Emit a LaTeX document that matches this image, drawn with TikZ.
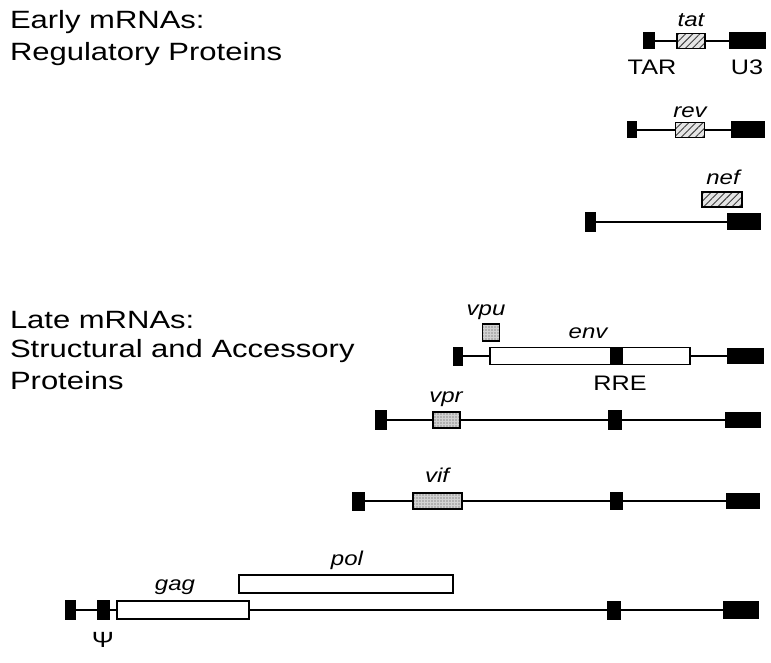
\documentclass[tikz,border=0pt]{standalone}
\usepackage{fontspec}
\setmainfont{Liberation Sans}
\usetikzlibrary{patterns.meta}
\begin{document}
\begin{tikzpicture}[x=1pt,y=-1pt,
  every node/.style={inner sep=0pt, outer sep=0pt},
  blk/.style={draw=black, fill=black, line width=1pt},
  hatchbox/.style={draw=black, line width=1.5pt, preaction={fill=gray!20},
    pattern={Lines[angle=45,distance=5pt,line width=0.9pt]}, pattern color=black!75},
  stipbox/.style={draw=black, line width=1.5pt, preaction={fill=gray!35},
    pattern={Dots[distance=3pt,radius=0.55pt]}, pattern color=black!75},
  openbox/.style={draw=black, line width=1.8pt, fill=white},
  title/.style={anchor=base west, xscale=1.24, font=\fontsize{25}{30}\selectfont},
  gene/.style={anchor=base, xscale=1.2, font=\fontsize{20}{24}\selectfont\itshape},
  site/.style={anchor=base, xscale=1.2, font=\fontsize{21}{25}\selectfont},
  conn/.style={line width=1.9pt}
]
\useasboundingbox (0,0) rectangle (771,663);

% titles
\node[title] (t1a) at (10,29) {Early mRNAs:};
\node[title] (t1b) at (10,61) {Regulatory Proteins};
\node[title] (t2a) at (10,328) {Late mRNAs:};
\node[title] (t2b) at (10,357) {Structural and Accessory};
\node[title] (t2c) at (10,389) {Proteins};

% tat row
\node[blk, minimum width=11pt, minimum height=16pt] (tatL) at (649,41) {};
\node[hatchbox, minimum width=28pt, minimum height=15pt] (tat) at (691,41) {};
\node[blk, minimum width=36pt, minimum height=16pt] (tatR) at (747,41) {};
\draw[conn] (tatL) -- (tat) -- (tatR);
\node[gene] (tatlbl) at (691,27) {tat};
\node[site] (tarlbl) at (652,75) {TAR};
\node[site] (u3lbl) at (747,75) {U3};

% rev row
\node[blk, minimum width=9pt, minimum height=16pt] (revL) at (632,130) {};
\node[hatchbox, minimum width=29pt, minimum height=15pt] (rev) at (690,130) {};
\node[blk, minimum width=33pt, minimum height=16pt] (revR) at (748,130) {};
\draw[conn] (revL) -- (rev) -- (revR);
\node[gene] (revlbl) at (690,118) {rev};

% nef row
\node[blk, minimum width=10pt, minimum height=19pt] (nefL) at (590,222) {};
\node[blk, minimum width=33pt, minimum height=16pt] (nefR) at (744,222) {};
\draw[conn] (nefL) -- (nefR);
\node[hatchbox, minimum width=40pt, minimum height=15pt] (nef) at (722,199.5) {};
\node[gene] (neflbl) at (723,185) {nef};

% env row
\node[blk, minimum width=9pt, minimum height=18pt] (envL) at (458,356) {};
\node[openbox, minimum width=200pt, minimum height=17pt] (env) at (590,356) {};
\node[blk, minimum width=36pt, minimum height=15pt] (envR) at (745,356) {};
\draw[conn] (envL) -- (env) -- (envR);
\node[blk, minimum width=12pt, minimum height=17pt] (envRRE) at (616,356) {};
\node[stipbox, minimum width=17pt, minimum height=17pt] (vpu) at (491,332.5) {};
\node[gene] (vpulbl) at (486,315) {vpu};
\node[gene] (envlbl) at (588,338) {env};
\node[site] (rrelbl) at (620,390) {RRE};

% vpr row
\node[blk, minimum width=11pt, minimum height=19pt] (vprL) at (381,420) {};
\node[stipbox, minimum width=27pt, minimum height=16pt] (vpr) at (446.5,420) {};
\node[blk, minimum width=13pt, minimum height=19pt] (vprRRE) at (615,420) {};
\node[blk, minimum width=35pt, minimum height=15pt] (vprR) at (742.5,420) {};
\draw[conn] (vprL) -- (vpr) -- (vprRRE) -- (vprR);
\node[gene] (vprlbl) at (446,402) {vpr};

% vif row
\node[blk, minimum width=12pt, minimum height=18pt] (vifL) at (358.5,501) {};
\node[stipbox, minimum width=49pt, minimum height=16pt] (vif) at (437.5,501) {};
\node[blk, minimum width=12pt, minimum height=17pt] (vifRRE) at (616,501) {};
\node[blk, minimum width=33pt, minimum height=15pt] (vifR) at (743,501) {};
\draw[conn] (vifL) -- (vif) -- (vifRRE) -- (vifR);
\node[gene] (viflbl) at (437,482) {vif};

% gag/pol row
\node[blk, minimum width=10pt, minimum height=19pt] (gL) at (70,610) {};
\node[blk, minimum width=12pt, minimum height=19pt] (psi) at (103,610) {};
\node[openbox, minimum width=132pt, minimum height=18pt] (gag) at (183,610) {};
\node[blk, minimum width=13pt, minimum height=18pt] (gRRE) at (614,610) {};
\node[blk, minimum width=35pt, minimum height=17pt] (gR) at (740.5,610) {};
\draw[conn] (gL) -- (psi) -- (gag) -- (gRRE) -- (gR);
\node[openbox, minimum width=214pt, minimum height=18pt] (pol) at (346,584) {};
\node[gene] (gaglbl) at (175,590) {gag};
\node[gene] (pollbl) at (347,565) {pol};
\node[site, font=\fontsize{22}{24}\selectfont] (psilbl) at (103,647) {Ψ};
\end{tikzpicture}
\end{document}
